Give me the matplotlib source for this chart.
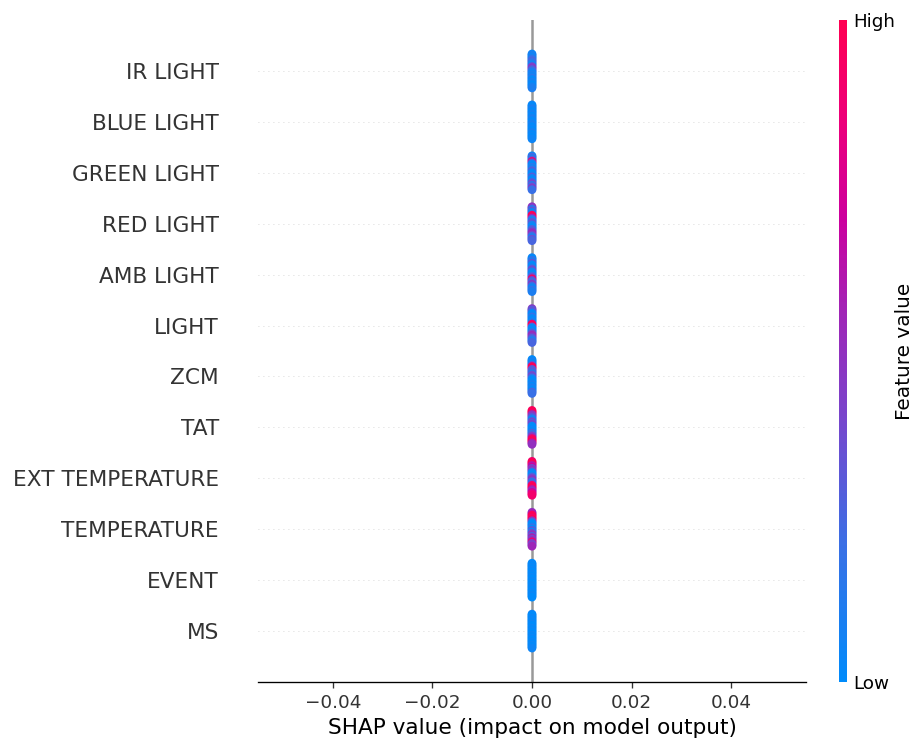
import numpy as np
import matplotlib
matplotlib.use("Agg")
import matplotlib.pyplot as plt
from matplotlib.colors import LinearSegmentedColormap, Normalize
from matplotlib.cm import ScalarMappable

# Feature names, top row first
features = ["IR LIGHT", "BLUE LIGHT", "GREEN LIGHT", "RED LIGHT", "AMB LIGHT",
            "LIGHT", "ZCM", "TAT", "EXT TEMPERATURE", "TEMPERATURE", "EVENT", "MS"]

# Normalised feature values of the samples (0 = low, 1 = high), listed from
# the top of each stack to the bottom
ir_light = [0.05, 0.1, 0.05, 0.1, 0.2, 0.25, 0.2, 0.1, 0.05, 0.4, 0.45, 0.3,
            0.2, 0.1, 0.05, 0.1, 0.05, 0.15, 0.05, 0.0, 0.1, 0.05, 0.0, 0.05, 0.1]
blue_light = [0.05, 0.0, 0.05, 0.1, 0.05, 0.0, 0.05, 0.08, 0.0, 0.05, 0.1, 0.05,
              0.0, 0.05, 0.1, 0.05, 0.0, 0.05, 0.0, 0.05, 0.1, 0.0, 0.05, 0.0, 0.05]
green_light = [0.05, 0.25, 0.1, 0.3, 0.9, 0.3, 0.05, 0.0, 0.15, 0.05, 0.2, 0.3, 0.05,
               0.0, 0.05, 0.3, 0.1, 0.0, 0.05, 0.3, 0.4, 0.1, 0.35, 0.45, 0.2]
red_light = [0.5, 0.4, 0.1, 0.35, 0.05, 0.1, 0.95, 1.0, 0.55, 0.2, 0.05, 0.3, 0.35,
             0.1, 0.05, 0.0, 0.25, 0.3, 0.45, 0.55, 0.4, 0.2, 0.1, 0.35, 0.25]
amb_light = [0.05, 0.0, 0.2, 0.1, 0.35, 0.05, 0.0, 0.05, 0.3, 0.4, 0.1, 0.05, 0.0,
             0.2, 0.35, 0.95, 0.45, 0.2, 0.3, 0.5, 0.25, 0.1, 0.05, 0.2, 0.1]
light = [0.45, 0.3, 0.35, 0.1, 0.0, 0.05, 0.2, 0.05, 0.0, 0.05, 0.1, 0.9, 1.0, 0.25,
         0.0, 0.05, 0.0, 0.2, 0.4, 0.55, 0.45, 0.3, 0.2, 0.1, 0.25]
zcm = [0.0, 0.05, 0.1, 0.0, 0.3, 0.95, 1.0, 0.35, 0.25, 0.3, 0.1, 0.35, 0.4, 0.2,
       0.05, 0.0, 0.0, 0.05, 0.1, 0.0, 0.1, 0.05, 0.0, 0.25, 0.2]
tat = [0.95, 1.0, 0.9, 0.5, 0.45, 0.3, 0.1, 0.05, 0.4, 0.3, 0.45, 0.05, 0.0, 0.0,
       0.05, 0.0, 0.25, 0.15, 0.4, 0.5, 0.9, 0.95, 1.0, 0.6, 0.5]
ext_temperature = [0.9, 1.0, 0.95, 0.6, 0.7, 0.4, 0.5, 0.4, 0.0, 0.05, 0.0, 0.25,
                   0.4, 0.5, 0.35, 0.1, 0.3, 0.9, 1.0, 0.95, 0.6, 0.5, 0.7, 0.85, 0.9]
temperature = [0.5, 0.6, 0.95, 1.0, 0.9, 1.0, 0.5, 0.25, 0.0, 0.0, 0.05, 0.2, 0.0,
               0.35, 0.05, 0.4, 0.5, 0.25, 0.6, 0.4, 0.5, 0.9, 0.45, 0.4, 0.55]
event = [0.0, 0.05, 0.0, 0.05, 0.0, 0.05, 0.0, 0.0, 0.05, 0.0, 0.05, 0.0, 0.0,
         0.05, 0.0, 0.0, 0.05, 0.0, 0.05, 0.0, 0.0, 0.05, 0.0, 0.05, 0.0]
ms = [0.05, 0.0, 0.0, 0.05, 0.0, 0.05, 0.0, 0.05, 0.0, 0.0, 0.05, 0.0, 0.05, 0.0,
      0.0, 0.05, 0.0, 0.05, 0.0, 0.0, 0.05, 0.0, 0.05, 0.0, 0.05]

feature_values = [ir_light, blue_light, green_light, red_light, amb_light, light,
                  zcm, tat, ext_temperature, temperature, event, ms]

# Every sample has a SHAP value of exactly zero for every feature
shap_value = 0.0

# Tick labels
xticks = [-0.04, -0.02, 0.00, 0.02, 0.04]
x_range = (-0.055, 0.055)

# Blue -> purple -> red feature colour map
red_blue = LinearSegmentedColormap.from_list("red_blue", [
    (0.00, (0.000, 0.545, 0.984)),
    (0.20, (0.220, 0.440, 0.900)),
    (0.40, (0.470, 0.270, 0.800)),
    (0.55, (0.620, 0.150, 0.720)),
    (0.70, (0.800, 0.000, 0.620)),
    (0.85, (0.930, 0.000, 0.480)),
    (1.00, (1.000, 0.000, 0.320)),
])
norm = Normalize(vmin=0, vmax=1)
axis_color = "#333333"
row_height = 0.4

dpi = 120
fig = plt.figure(figsize=(917 / dpi, 745 / dpi), dpi=dpi)
ax = fig.add_axes([258 / 917, 1 - 682 / 745, 548 / 917, 662 / 745])

ax.axvline(0, color="#999999", zorder=-1)

n_feat = len(features)
for i, (name, vals) in enumerate(zip(features, feature_values)):
    pos = n_feat - 1 - i
    ax.axhline(y=pos, color="#cccccc", lw=0.5, dashes=(1, 5), zorder=-1)
    n = len(vals)
    half = (n - 1) / 2
    # stacked layout for identical SHAP values
    offsets = (half - np.arange(n)) * (0.9 * row_height / (half + 1))
    xs = np.full(n, shap_value)
    ax.scatter(xs, pos + offsets, c=vals, cmap=red_blue, norm=norm, s=28,
               linewidth=0, alpha=1, zorder=3)

ax.set_ylim(-1, n_feat)
ax.set_xlim(*x_range)
ax.set_xticks(xticks)
ax.set_xticklabels([f"{t:.2f}".replace("-", "\u2212") for t in xticks])
ax.set_yticks(range(n_feat))
ax.set_yticklabels(features[::-1], fontsize=13)
ax.yaxis.set_ticks_position("none")
ax.tick_params("y", length=20, width=0.5, which="major")
ax.tick_params("x", labelsize=11)
ax.tick_params(color=axis_color, labelcolor=axis_color)
ax.xaxis.set_ticks_position("bottom")
for side in ("right", "top", "left"):
    ax.spines[side].set_visible(False)
ax.set_xlabel("SHAP value (impact on model output)", fontsize=13)

cax = fig.add_axes([839 / 917, 1 - 682 / 745, 8 / 917, 662 / 745])
sm = ScalarMappable(norm=norm, cmap=red_blue)
cb = fig.colorbar(sm, cax=cax, ticks=[0, 1])
cb.set_ticklabels(["Low", "High"])
cb.set_label("Feature value", size=12, labelpad=0)
cb.ax.tick_params(labelsize=11, length=0)
cb.outline.set_visible(False)

fig.savefig("out.png", dpi=dpi)
